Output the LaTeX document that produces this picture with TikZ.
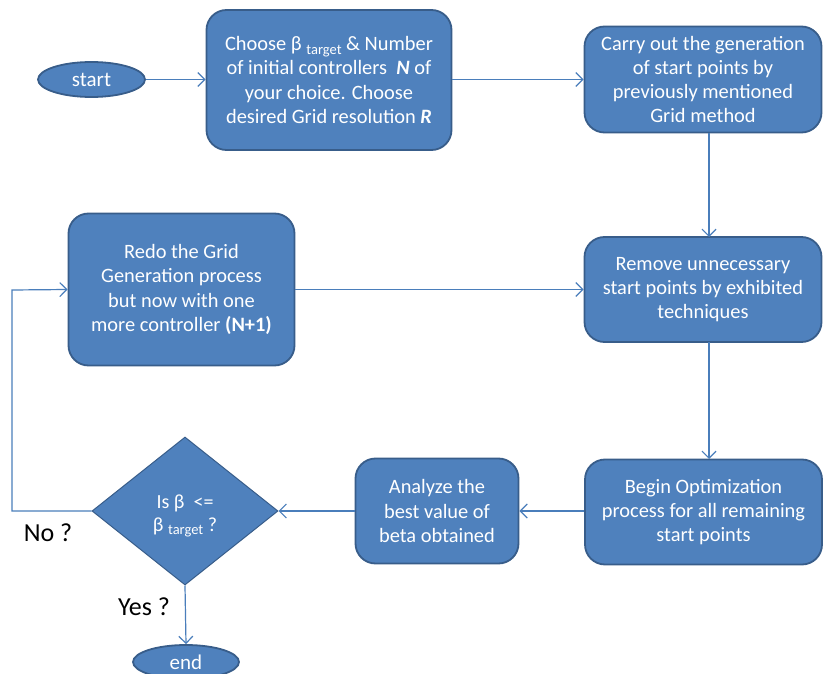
\documentclass[tikz,border=0pt]{standalone}
\usepackage{fontspec}
\setmainfont{Carlito}
\usetikzlibrary{shapes.geometric,arrows.meta}
\definecolor{boxfill}{HTML}{4F81BD}
\definecolor{boxline}{HTML}{385D8A}
\definecolor{arrcol}{HTML}{4A7EBB}
\newcommand{\tgt}{\raisebox{-0.35ex}{\fontsize{14.5}{14.5}\selectfont target}}
\begin{document}
\begin{tikzpicture}[x=1pt,y=-1pt,
  procbox/.style={draw=boxline, line width=1.8pt, fill=boxfill, rounded corners=20pt,
    text=white, align=center, inner sep=0pt, font=\fontsize{20.4}{24.2}\selectfont},
  termnode/.style={ellipse, draw=boxline, line width=1.8pt, fill=boxfill, text=white,
    inner sep=0pt, font=\fontsize{21}{24}\selectfont},
  decnode/.style={diamond, draw=boxline, line width=1pt, fill=boxfill, text=white,
    inner sep=0pt, align=center, font=\fontsize{20}{25}\selectfont},
  conn/.style={draw=arrcol, line width=1.2pt, -{Straight Barb[length=7pt,width=14pt,line width=1.2pt]}},
  lbl/.style={text=black, font=\fontsize{26}{30}\selectfont, inner sep=0pt}]
\clip (0,0) rectangle (823,674);
\fill[white] (0,0) rectangle (823,674);

\node[termnode, minimum width=107pt, minimum height=35pt] (start) at (91.5,79.5) {start};
\node[procbox, minimum width=245pt, minimum height=140pt] (choose) at (329,80)
  {Choose β \tgt{} \& Number\\ of initial controllers \ \textbf{\textit{N}} of\\ your choice. Choose\\ desired Grid resolution \textbf{\textit{R}}};
\node[procbox, minimum width=237pt, minimum height=106pt] (carry) at (703,79.5)
  {Carry out the generation\\ of start points by\\ previously mentioned\\ Grid method};
\node[procbox, minimum width=237pt, minimum height=105pt] (remove) at (703,289.5)
  {Remove unnecessary\\ start points by exhibited\\ techniques};
\node[procbox, minimum width=226pt, minimum height=152pt] (redo) at (181.5,289.5)
  {Redo the Grid\\ Generation process\\ but now with one\\ more controller \textbf{(N+1)}};
\node[procbox, minimum width=237pt, minimum height=105pt] (begin) at (703.5,512)
  {Begin Optimization\\ process for all remaining\\ start points};
\node[procbox, minimum width=163pt, minimum height=105pt] (analyze) at (437,511)
  {Analyze the\\ best value of\\ beta obtained};
\node[decnode, minimum width=186pt, minimum height=148pt] (dec) at (185,511) {};
\node[text=white, align=center, inner sep=0pt, font=\fontsize{20}{25}\selectfont] (dectext) at (185,516)
  {Is β \ <=\\[-2pt] β \tgt{} ?};
\node[termnode, minimum width=106pt, minimum height=34pt] (end) at (186,662) {end};

\coordinate (c1) at (12,511);
\coordinate (c2) at (12,290);

\draw[conn] (start.east) -- (choose.west |- start.east);
\draw[conn] (choose.east |- carry.west) -- (carry.west);
\draw[conn] (709,133) -- (709,237);
\draw[conn] (redo.east) -- (remove.west);
\draw[conn] (709,342) -- (709,459);
\draw[conn] (begin.west |- analyze.east) -- (analyze.east);
\draw[conn] (analyze.west) -- (dec.east);
\draw[conn] (dec.west) -- (c1) -- (c2) -- (redo.west);
\draw[conn] (dec.south) -- (end.north);

\node[lbl] (no) at (48,533) {No ?};
\node[lbl] (yes) at (144,607) {Yes ?};
\end{tikzpicture}
\end{document}
